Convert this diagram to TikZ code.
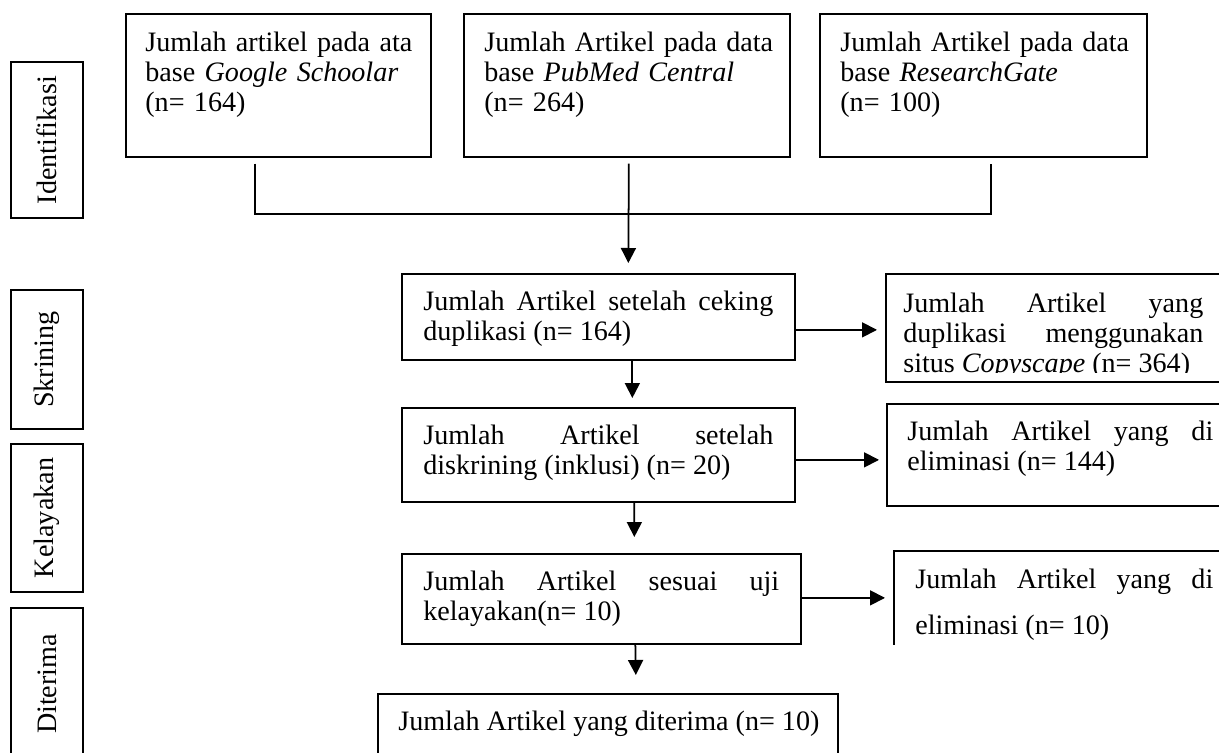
\documentclass[tikz,border=0pt]{standalone}
\usepackage{fontspec}
\setmainfont{Liberation Serif}
\usetikzlibrary{arrows.meta, calc}

\tikzset{
    frame/.style={draw, line width=1pt, anchor=north west, inner sep=0pt},
    txt/.style={anchor=north west, inner sep=0pt, font=\fontsize{16pt}{17pt}\selectfont},
    stage/.style={draw, line width=1pt, rotate=90, inner sep=0pt, font=\fontsize{16pt}{17pt}\selectfont},
    arr/.style={line width=1pt, -{Triangle[length=0.3cm, width=0.3cm]}}
}

\begin{document}
\begin{tikzpicture}[x=0.02cm, y=-0.02cm]
        \useasboundingbox (0,0) rectangle (1219,753);
        \clip (0,0) rectangle (1219,753);

        % tahapan
        \node[stage, minimum width=3.12cm, minimum height=1.44cm] (idf) at (47,140) {Identifikasi};
        \node[stage, minimum width=2.78cm, minimum height=1.44cm] (skr) at (47,359.5) {Skrining};
        \node[stage, minimum width=2.96cm, minimum height=1.44cm] (kly) at (47,518) {Kelayakan};
        \node[stage, minimum width=3.04cm, minimum height=1.44cm] (dtr) at (47,684) {Diterima};

        % identifikasi
        \node[frame, minimum width=6.1cm, minimum height=2.86cm] (gs) at (125,13) {};
        \node[txt, text width=5.9cm, align=left] (gs-t) at ([shift={(20,19)}]gs.north west)
            {Jumlah artikel pada ata\\ base \textit{Google Schoolar}\\ (n= 164)};
        \node[frame, minimum width=6.52cm, minimum height=2.86cm] (pm) at (463,13) {};
        \node[txt, text width=6.2cm, align=left] (pm-t) at ([shift={(21,19)}]pm.north west)
            {Jumlah Artikel pada data\\ base \textit{PubMed Central}\\ (n= 264)};
        \node[frame, minimum width=6.54cm, minimum height=2.86cm] (rg) at (819,13) {};
        \node[txt, text width=6.2cm, align=left] (rg-t) at ([shift={(21,19)}]rg.north west)
            {Jumlah Artikel pada data\\ base \textit{ResearchGate}\\ (n= 100)};

        % alur utama
        \node[frame, minimum width=7.86cm, minimum height=1.72cm] (ck) at (401,273) {};
        \node[txt, text width=7.0cm, align=justify] (ck-t) at ([shift={(22,18)}]ck.north west)
            {Jumlah Artikel setelah ceking\linebreak duplikasi (n= 164)};
        \node[frame, minimum width=7.86cm, minimum height=1.88cm] (dsk) at (401,407) {};
        \node[txt, text width=7.0cm, align=justify] (dsk-t) at ([shift={(22,18)}]dsk.north west)
            {Jumlah Artikel setelah\linebreak diskrining (inklusi) (n= 20)};
        \node[frame, minimum width=7.98cm, minimum height=1.8cm] (kel) at (401,553) {};
        \node[txt, text width=7.12cm, align=justify] (kel-t) at ([shift={(22,18)}]kel.north west)
            {Jumlah Artikel sesuai uji\linebreak kelayakan(n= 10)};
        \node[frame, minimum width=9.2cm, minimum height=1.94cm] (dit) at (377,693) {};
        \node[txt] (dit-t) at ([shift={(21,18)}]dit.north west) {Jumlah Artikel yang diterima (n= 10)};

        % eliminasi
        \node[frame, minimum width=7.1cm, minimum height=2.16cm] (dup) at (885,273) {};
        \begin{scope}
            \clip (dup.north west) rectangle ($(dup.south east)+(0,-10)$);
            \node[txt, text width=6.0cm, align=justify] (dup-t) at ([shift={(18,20)}]dup.north west)
                {Jumlah Artikel yang\linebreak duplikasi menggunakan\linebreak situs \textit{Copyscape} (n= 364)};
        \end{scope}
        \node[frame, minimum width=7.08cm, minimum height=2.04cm] (elm1) at (886,403) {};
        \node[txt, text width=6.12cm, align=justify] (elm1-t) at ([shift={(21,18)}]elm1.north west)
            {Jumlah Artikel yang di\linebreak eliminasi (n= 144)};
        \node[frame, draw=none, minimum width=6.92cm, minimum height=1.84cm] (elm2) at (894,551) {};
        \draw[line width=1pt] (elm2.north east) -- (elm2.north west) -- (elm2.south west);
        \begin{scope}
            \clip (elm2.north west) rectangle ($(elm2.south east)+(0,-3)$);
            \node[txt, text width=5.96cm, align=justify, font=\fontsize{16pt}{26pt}\selectfont] (elm2-t)
                at ([shift={(21,18)}]elm2.north west) {Jumlah Artikel yang di\linebreak eliminasi (n= 10)};
        \end{scope}

        % penghubung
        \draw[line width=1pt] ($(gs.south)+(-23,6)$) |- ($(rg.south)+(8,56)$) -- ($(rg.south)+(8,6)$);
        \draw[arr] ($(pm.south)+(2,6)$) -- ($(ck.north)+(30,-10)$);
        \draw[arr] ($(ck.south)+(34,0)$) -- ($(dsk.north)+(34,-9)$);
        \draw[arr] ($(dsk.south)+(36,0)$) -- ($(kel.north)+(33,-16)$);
        \draw[arr] ($(kel.south)+(34,0)$) -- ($(dit.north)+(28,-18)$);
        \draw[arr] ($(ck.east)+(0,13)$) -- ($(dup.west |- ck.east)+(-8,13)$);
        \draw[arr] ($(dsk.east)+(0,5)$) -- ($(elm1.west |- dsk.east)+(-7,5)$);
        \draw[arr] ($(kel.east)+(0,-1)$) -- ($(elm2.west |- kel.east)+(-9,-1)$);
\end{tikzpicture}
\end{document}
